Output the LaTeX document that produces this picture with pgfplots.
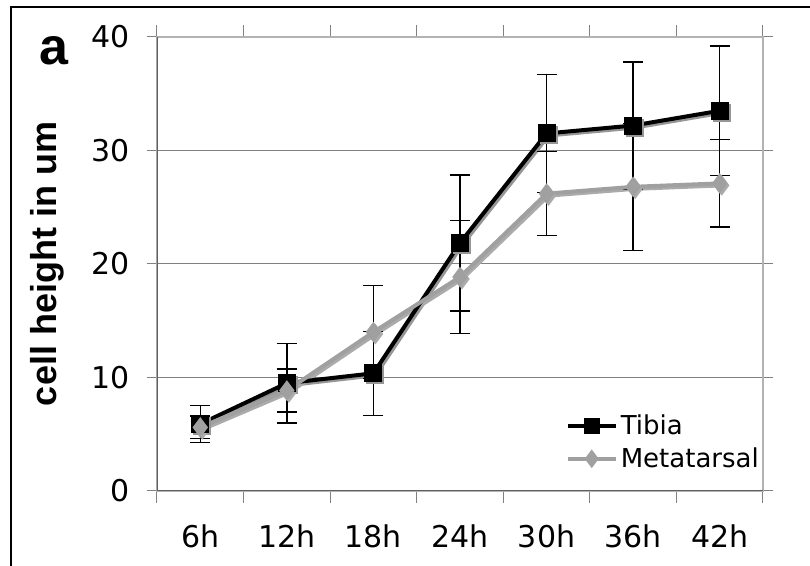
\documentclass[border=0pt]{standalone}
\usepackage{pgfplots}
\pgfplotsset{compat=1.18}
\usepackage{fontspec}
\setmainfont{DejaVu Sans}
\newfontfamily\arialfont{Liberation Sans}
\definecolor{metagray}{RGB}{160,160,160}
\definecolor{shadowgray}{RGB}{150,150,150}

\begin{document}
\begin{tikzpicture}
\path[use as bounding box] (0,0) rectangle (405pt,283pt);
% outer frame (only left and top edges fall inside the picture)
\draw[black, line width=1pt] (5.5pt,-10pt) -- (5.5pt,279.5pt) -- (420pt,279.5pt);
\node[anchor=base, font=\arialfont\bfseries\fontsize{26}{30}\selectfont] at (27pt,250.5pt) {a};

\begin{axis}[
    at={(78.5pt,37.5pt)}, anchor=south west,
    scale only axis, width=303pt, height=227pt,
    xmin=0.5, xmax=7.5, ymin=0, ymax=40,
    xtick={1,...,7},
    xticklabels={6h,12h,18h,24h,30h,36h,42h},
    major x tick style={draw=none},
    minor xtick={0.5,1.5,...,7.5},
    ytick={0,10,20,30,40},
    ymajorgrids,
    grid style={color=gray, line width=0.5pt},
    tick align=outside,
    tick style={color=gray, line width=0.5pt},
    major tick length=5pt, minor tick length=6pt,
    axis line style={draw=gray!60, line width=0.6pt},
    /pgf/number format/assume math mode=true,
    ticklabel style={font=\fontsize{15}{18}\selectfont},
    yticklabel style={anchor=east, inner sep=0pt, xshift=-8.5pt},
    xticklabel style={anchor=north, inner sep=0pt, yshift=-11.5pt},
    ylabel={cell height in um},
    ylabel style={font=\arialfont\bfseries\fontsize{18}{21}\selectfont,
        at={(axis description cs:-0.1815,0.5)}, anchor=center},
    legend style={draw=none, fill=none, at={(axis description cs:0.664,0.107)},
        anchor=west, font=\fontsize{13}{15}\selectfont, row sep=2pt,
        nodes={inner sep=1.5pt}},
    legend cell align=left,
    legend image code/.code={\draw[mark repeat=2,mark phase=2,#1,mark size=3pt]
        plot coordinates {(0pt,0pt) (12pt,0pt) (24pt,0pt)};},
    error bars/error bar style={black, line width=0.7pt},
    error bars/error mark options={rotate=90, mark size=5pt, black, line width=0.7pt},
]
% shadows
\addplot[shadowgray, line width=2pt, xshift=1pt, yshift=-1pt, forget plot,
    mark=square*, mark size=3.5pt] coordinates {
    (1,5.9) (2,9.5) (3,10.37) (4,21.85) (5,31.5) (6,32.2) (7,33.5)};
\addplot[shadowgray!80, line width=2pt, xshift=1pt, yshift=-1pt, forget plot,
    mark=diamond*, mark size=3.5pt] coordinates {
    (1,5.6) (2,8.85) (3,14.0) (4,18.85) (5,26.2) (6,26.8) (7,27.1)};

% Tibia
\addplot[black, line width=2pt, mark=square*, mark size=3.5pt,
    mark options={solid, fill=black},
    error bars/.cd, y dir=both, y explicit]
    coordinates {
    (1,5.9) +- (0,1.65)
    (2,9.5) +- (0,3.5)
    (3,10.37) +- (0,3.7)
    (4,21.85) +- (0,6.0)
    (5,31.5) +- (0,5.2)
    (6,32.2) +- (0,5.6)
    (7,33.5) +- (0,5.7)};
% Metatarsal
\addplot[metagray, line width=2pt, mark=diamond*, mark size=3.5pt,
    mark options={solid, fill=metagray},
    error bars/.cd, y dir=both, y explicit]
    coordinates {
    (1,5.6) +- (0,1.0)
    (2,8.85) +- (0,1.9)
    (3,14.0) +- (0,4.1)
    (4,18.85) +- (0,5.0)
    (5,26.2) +- (0,3.7)
    (6,26.8) +- (0,5.6)
    (7,27.1) +- (0,3.85)};
\legend{Tibia,Metatarsal}

\draw[gray!75!black, line width=0.6pt] (rel axis cs:0,0) -- (rel axis cs:0,1);
\draw[gray!75!black, line width=0.6pt] (rel axis cs:0,0) -- (rel axis cs:1,0);
\end{axis}
\end{tikzpicture}
\end{document}
